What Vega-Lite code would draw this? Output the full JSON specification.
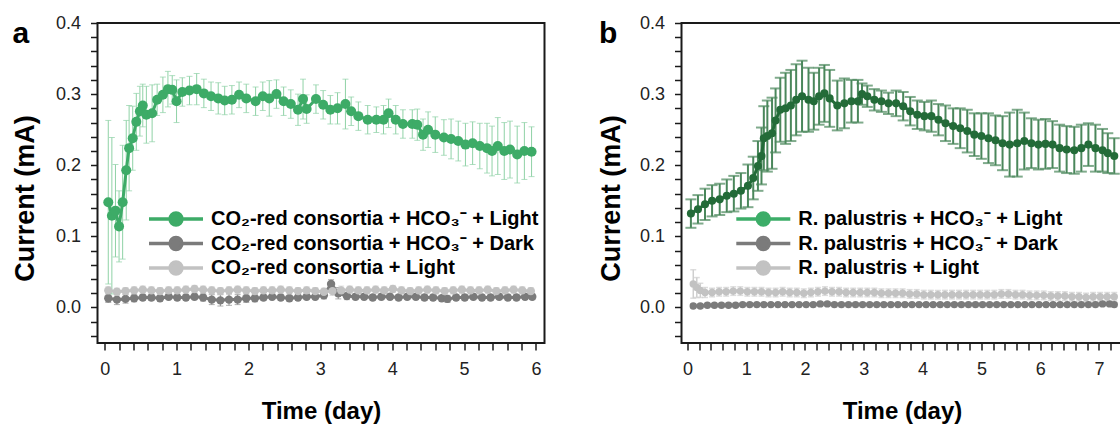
{
  "$schema": "https://vega.github.io/schema/vega-lite/v6.json",
  "padding": {"left": 10.5, "top": 13, "right": 0, "bottom": 0},
  "spacing": 51,
  "datasets": {
    "a": [
      {"s":"D","t":0.05,"y":0.013,"e":0.006},{"s":"D","t":0.17,"y":0.011,"e":0.007},{"s":"D","t":0.29,"y":0.012,"e":0.006},{"s":"D","t":0.41,"y":0.013,"e":0.005},{"s":"D","t":0.53,"y":0.014,"e":0.004},{"s":"D","t":0.65,"y":0.014,"e":0.004},{"s":"D","t":0.77,"y":0.013,"e":0.004},{"s":"D","t":0.89,"y":0.015,"e":0.004},{"s":"D","t":1.01,"y":0.014,"e":0.004},{"s":"D","t":1.13,"y":0.014,"e":0.004},{"s":"D","t":1.25,"y":0.015,"e":0.004},{"s":"D","t":1.37,"y":0.014,"e":0.005},{"s":"D","t":1.49,"y":0.011,"e":0.007},{"s":"D","t":1.61,"y":0.010,"e":0.008},{"s":"D","t":1.73,"y":0.011,"e":0.008},{"s":"D","t":1.85,"y":0.011,"e":0.007},{"s":"D","t":1.97,"y":0.013,"e":0.006},{"s":"D","t":2.09,"y":0.013,"e":0.005},{"s":"D","t":2.21,"y":0.014,"e":0.004},{"s":"D","t":2.33,"y":0.015,"e":0.004},{"s":"D","t":2.45,"y":0.014,"e":0.004},{"s":"D","t":2.57,"y":0.013,"e":0.004},{"s":"D","t":2.69,"y":0.014,"e":0.004},{"s":"D","t":2.81,"y":0.015,"e":0.004},{"s":"D","t":2.93,"y":0.015,"e":0.004},{"s":"D","t":3.05,"y":0.017,"e":0.005},{"s":"D","t":3.15,"y":0.033,"e":0.006},{"s":"D","t":3.25,"y":0.02,"e":0.008},{"s":"D","t":3.37,"y":0.016,"e":0.005},{"s":"D","t":3.49,"y":0.015,"e":0.004},{"s":"D","t":3.61,"y":0.015,"e":0.004},{"s":"D","t":3.73,"y":0.014,"e":0.004},{"s":"D","t":3.85,"y":0.015,"e":0.004},{"s":"D","t":3.97,"y":0.015,"e":0.004},{"s":"D","t":4.09,"y":0.014,"e":0.004},{"s":"D","t":4.21,"y":0.015,"e":0.004},{"s":"D","t":4.33,"y":0.015,"e":0.004},{"s":"D","t":4.45,"y":0.014,"e":0.004},{"s":"D","t":4.57,"y":0.014,"e":0.004},{"s":"D","t":4.69,"y":0.013,"e":0.004},{"s":"D","t":4.77,"y":0.012,"e":0.005},{"s":"D","t":4.89,"y":0.014,"e":0.004},{"s":"D","t":5.01,"y":0.014,"e":0.004},{"s":"D","t":5.13,"y":0.015,"e":0.004},{"s":"D","t":5.25,"y":0.014,"e":0.004},{"s":"D","t":5.37,"y":0.014,"e":0.004},{"s":"D","t":5.49,"y":0.015,"e":0.004},{"s":"D","t":5.61,"y":0.014,"e":0.004},{"s":"D","t":5.73,"y":0.014,"e":0.004},{"s":"D","t":5.85,"y":0.015,"e":0.004},{"s":"D","t":5.95,"y":0.015,"e":0.004},
      {"s":"N","t":0.05,"y":0.024,"e":0.005},{"s":"N","t":0.17,"y":0.022,"e":0.005},{"s":"N","t":0.29,"y":0.023,"e":0.005},{"s":"N","t":0.41,"y":0.024,"e":0.005},{"s":"N","t":0.53,"y":0.025,"e":0.005},{"s":"N","t":0.65,"y":0.024,"e":0.005},{"s":"N","t":0.77,"y":0.023,"e":0.005},{"s":"N","t":0.89,"y":0.024,"e":0.005},{"s":"N","t":1.01,"y":0.024,"e":0.005},{"s":"N","t":1.13,"y":0.025,"e":0.005},{"s":"N","t":1.25,"y":0.026,"e":0.005},{"s":"N","t":1.37,"y":0.025,"e":0.005},{"s":"N","t":1.49,"y":0.024,"e":0.005},{"s":"N","t":1.61,"y":0.023,"e":0.005},{"s":"N","t":1.73,"y":0.024,"e":0.005},{"s":"N","t":1.85,"y":0.025,"e":0.005},{"s":"N","t":1.97,"y":0.024,"e":0.005},{"s":"N","t":2.09,"y":0.023,"e":0.005},{"s":"N","t":2.21,"y":0.024,"e":0.005},{"s":"N","t":2.33,"y":0.024,"e":0.005},{"s":"N","t":2.45,"y":0.025,"e":0.005},{"s":"N","t":2.57,"y":0.024,"e":0.005},{"s":"N","t":2.69,"y":0.023,"e":0.005},{"s":"N","t":2.81,"y":0.024,"e":0.005},{"s":"N","t":2.93,"y":0.023,"e":0.005},{"s":"N","t":3.05,"y":0.022,"e":0.005},{"s":"N","t":3.17,"y":0.023,"e":0.006},{"s":"N","t":3.29,"y":0.024,"e":0.006},{"s":"N","t":3.41,"y":0.025,"e":0.005},{"s":"N","t":3.53,"y":0.024,"e":0.005},{"s":"N","t":3.65,"y":0.024,"e":0.005},{"s":"N","t":3.77,"y":0.025,"e":0.005},{"s":"N","t":3.89,"y":0.024,"e":0.005},{"s":"N","t":4.01,"y":0.026,"e":0.005},{"s":"N","t":4.13,"y":0.024,"e":0.005},{"s":"N","t":4.25,"y":0.023,"e":0.005},{"s":"N","t":4.37,"y":0.024,"e":0.005},{"s":"N","t":4.49,"y":0.025,"e":0.005},{"s":"N","t":4.61,"y":0.024,"e":0.005},{"s":"N","t":4.73,"y":0.023,"e":0.005},{"s":"N","t":4.85,"y":0.024,"e":0.005},{"s":"N","t":4.97,"y":0.025,"e":0.005},{"s":"N","t":5.09,"y":0.024,"e":0.005},{"s":"N","t":5.21,"y":0.024,"e":0.005},{"s":"N","t":5.33,"y":0.025,"e":0.005},{"s":"N","t":5.45,"y":0.023,"e":0.005},{"s":"N","t":5.57,"y":0.024,"e":0.005},{"s":"N","t":5.69,"y":0.025,"e":0.005},{"s":"N","t":5.81,"y":0.024,"e":0.005},{"s":"N","t":5.93,"y":0.023,"e":0.005},
      {"s":"L","t":0.05,"y":0.148,"e":0.115},{"s":"L","t":0.1,"y":0.129,"e":0.11},{"s":"L","t":0.15,"y":0.136,"e":0.065},{"s":"L","t":0.2,"y":0.114,"e":0.05},{"s":"L","t":0.25,"y":0.148,"e":0.08},{"s":"L","t":0.3,"y":0.193,"e":0.07},{"s":"L","t":0.34,"y":0.224,"e":0.06},{"s":"L","t":0.39,"y":0.238,"e":0.045},{"s":"L","t":0.44,"y":0.261,"e":0.04},{"s":"L","t":0.49,"y":0.276,"e":0.035},{"s":"L","t":0.53,"y":0.284,"e":0.03},{"s":"L","t":0.58,"y":0.271,"e":0.04},{"s":"L","t":0.66,"y":0.273,"e":0.04},{"s":"L","t":0.73,"y":0.292,"e":0.022},{"s":"L","t":0.81,"y":0.299,"e":0.025},{"s":"L","t":0.88,"y":0.307,"e":0.025},{"s":"L","t":0.94,"y":0.306,"e":0.02},{"s":"L","t":1.0,"y":0.29,"e":0.03},{"s":"L","t":1.08,"y":0.303,"e":0.02},{"s":"L","t":1.18,"y":0.305,"e":0.02},{"s":"L","t":1.28,"y":0.307,"e":0.022},{"s":"L","t":1.38,"y":0.301,"e":0.02},{"s":"L","t":1.48,"y":0.297,"e":0.02},{"s":"L","t":1.58,"y":0.294,"e":0.022},{"s":"L","t":1.67,"y":0.291,"e":0.02},{"s":"L","t":1.77,"y":0.292,"e":0.02},{"s":"L","t":1.87,"y":0.299,"e":0.018},{"s":"L","t":1.97,"y":0.294,"e":0.02},{"s":"L","t":2.1,"y":0.29,"e":0.02},{"s":"L","t":2.2,"y":0.297,"e":0.02},{"s":"L","t":2.29,"y":0.294,"e":0.025},{"s":"L","t":2.39,"y":0.3,"e":0.02},{"s":"L","t":2.49,"y":0.29,"e":0.02},{"s":"L","t":2.59,"y":0.286,"e":0.02},{"s":"L","t":2.69,"y":0.278,"e":0.022},{"s":"L","t":2.76,"y":0.293,"e":0.028},{"s":"L","t":2.81,"y":0.279,"e":0.02},{"s":"L","t":2.94,"y":0.293,"e":0.02},{"s":"L","t":3.04,"y":0.285,"e":0.02},{"s":"L","t":3.14,"y":0.278,"e":0.02},{"s":"L","t":3.24,"y":0.28,"e":0.022},{"s":"L","t":3.35,"y":0.286,"e":0.035},{"s":"L","t":3.43,"y":0.276,"e":0.02},{"s":"L","t":3.53,"y":0.269,"e":0.02},{"s":"L","t":3.66,"y":0.264,"e":0.02},{"s":"L","t":3.78,"y":0.264,"e":0.018},{"s":"L","t":3.88,"y":0.264,"e":0.02},{"s":"L","t":3.95,"y":0.273,"e":0.02},{"s":"L","t":4.05,"y":0.264,"e":0.02},{"s":"L","t":4.15,"y":0.258,"e":0.02},{"s":"L","t":4.28,"y":0.258,"e":0.02},{"s":"L","t":4.35,"y":0.257,"e":0.022},{"s":"L","t":4.43,"y":0.243,"e":0.022},{"s":"L","t":4.5,"y":0.25,"e":0.025},{"s":"L","t":4.6,"y":0.243,"e":0.025},{"s":"L","t":4.72,"y":0.239,"e":0.025},{"s":"L","t":4.82,"y":0.237,"e":0.028},{"s":"L","t":4.92,"y":0.234,"e":0.028},{"s":"L","t":5.02,"y":0.229,"e":0.03},{"s":"L","t":5.12,"y":0.231,"e":0.03},{"s":"L","t":5.22,"y":0.227,"e":0.032},{"s":"L","t":5.32,"y":0.224,"e":0.035},{"s":"L","t":5.39,"y":0.22,"e":0.035},{"s":"L","t":5.47,"y":0.227,"e":0.04},{"s":"L","t":5.56,"y":0.22,"e":0.04},{"s":"L","t":5.64,"y":0.222,"e":0.04},{"s":"L","t":5.74,"y":0.215,"e":0.04},{"s":"L","t":5.84,"y":0.22,"e":0.04},{"s":"L","t":5.94,"y":0.219,"e":0.035}
    ],
    "b": [
      {"s":"D","t":0.1,"y":0.002,"e":0.003},{"s":"D","t":0.22,"y":0.002,"e":0.003},{"s":"D","t":0.34,"y":0.003,"e":0.003},{"s":"D","t":0.46,"y":0.003,"e":0.003},{"s":"D","t":0.58,"y":0.003,"e":0.003},{"s":"D","t":0.7,"y":0.003,"e":0.003},{"s":"D","t":0.82,"y":0.003,"e":0.003},{"s":"D","t":0.94,"y":0.004,"e":0.003},{"s":"D","t":1.06,"y":0.004,"e":0.003},{"s":"D","t":1.18,"y":0.004,"e":0.003},{"s":"D","t":1.3,"y":0.004,"e":0.003},{"s":"D","t":1.42,"y":0.004,"e":0.003},{"s":"D","t":1.54,"y":0.004,"e":0.003},{"s":"D","t":1.66,"y":0.004,"e":0.003},{"s":"D","t":1.78,"y":0.004,"e":0.003},{"s":"D","t":1.9,"y":0.004,"e":0.003},{"s":"D","t":2.02,"y":0.004,"e":0.003},{"s":"D","t":2.14,"y":0.004,"e":0.003},{"s":"D","t":2.26,"y":0.005,"e":0.003},{"s":"D","t":2.38,"y":0.005,"e":0.003},{"s":"D","t":2.5,"y":0.004,"e":0.003},{"s":"D","t":2.62,"y":0.004,"e":0.003},{"s":"D","t":2.74,"y":0.004,"e":0.003},{"s":"D","t":2.86,"y":0.004,"e":0.003},{"s":"D","t":2.98,"y":0.004,"e":0.003},{"s":"D","t":3.1,"y":0.004,"e":0.003},{"s":"D","t":3.22,"y":0.004,"e":0.003},{"s":"D","t":3.34,"y":0.004,"e":0.003},{"s":"D","t":3.46,"y":0.004,"e":0.003},{"s":"D","t":3.58,"y":0.004,"e":0.003},{"s":"D","t":3.7,"y":0.004,"e":0.003},{"s":"D","t":3.82,"y":0.004,"e":0.003},{"s":"D","t":3.94,"y":0.004,"e":0.003},{"s":"D","t":4.06,"y":0.004,"e":0.003},{"s":"D","t":4.18,"y":0.004,"e":0.003},{"s":"D","t":4.3,"y":0.004,"e":0.003},{"s":"D","t":4.42,"y":0.004,"e":0.003},{"s":"D","t":4.54,"y":0.004,"e":0.003},{"s":"D","t":4.66,"y":0.004,"e":0.003},{"s":"D","t":4.78,"y":0.004,"e":0.003},{"s":"D","t":4.9,"y":0.004,"e":0.003},{"s":"D","t":5.02,"y":0.004,"e":0.003},{"s":"D","t":5.14,"y":0.004,"e":0.003},{"s":"D","t":5.26,"y":0.004,"e":0.003},{"s":"D","t":5.38,"y":0.004,"e":0.003},{"s":"D","t":5.5,"y":0.004,"e":0.003},{"s":"D","t":5.62,"y":0.004,"e":0.003},{"s":"D","t":5.74,"y":0.004,"e":0.003},{"s":"D","t":5.86,"y":0.004,"e":0.003},{"s":"D","t":5.98,"y":0.004,"e":0.003},{"s":"D","t":6.1,"y":0.004,"e":0.003},{"s":"D","t":6.22,"y":0.004,"e":0.003},{"s":"D","t":6.34,"y":0.004,"e":0.003},{"s":"D","t":6.46,"y":0.004,"e":0.003},{"s":"D","t":6.58,"y":0.004,"e":0.003},{"s":"D","t":6.7,"y":0.004,"e":0.003},{"s":"D","t":6.82,"y":0.004,"e":0.003},{"s":"D","t":6.94,"y":0.004,"e":0.003},{"s":"D","t":7.06,"y":0.005,"e":0.003},{"s":"D","t":7.18,"y":0.005,"e":0.003},{"s":"D","t":7.26,"y":0.004,"e":0.003},
      {"s":"N","t":0.1,"y":0.033,"e":0.02},{"s":"N","t":0.16,"y":0.028,"e":0.014},{"s":"N","t":0.22,"y":0.024,"e":0.01},{"s":"N","t":0.3,"y":0.021,"e":0.007},{"s":"N","t":0.42,"y":0.021,"e":0.006},{"s":"N","t":0.54,"y":0.022,"e":0.006},{"s":"N","t":0.66,"y":0.022,"e":0.006},{"s":"N","t":0.78,"y":0.023,"e":0.006},{"s":"N","t":0.9,"y":0.023,"e":0.006},{"s":"N","t":1.02,"y":0.022,"e":0.006},{"s":"N","t":1.14,"y":0.022,"e":0.006},{"s":"N","t":1.26,"y":0.022,"e":0.006},{"s":"N","t":1.38,"y":0.021,"e":0.006},{"s":"N","t":1.5,"y":0.021,"e":0.006},{"s":"N","t":1.62,"y":0.022,"e":0.006},{"s":"N","t":1.74,"y":0.021,"e":0.006},{"s":"N","t":1.86,"y":0.021,"e":0.006},{"s":"N","t":1.98,"y":0.02,"e":0.006},{"s":"N","t":2.1,"y":0.021,"e":0.006},{"s":"N","t":2.22,"y":0.022,"e":0.006},{"s":"N","t":2.34,"y":0.023,"e":0.006},{"s":"N","t":2.46,"y":0.022,"e":0.006},{"s":"N","t":2.58,"y":0.022,"e":0.006},{"s":"N","t":2.7,"y":0.021,"e":0.006},{"s":"N","t":2.82,"y":0.021,"e":0.006},{"s":"N","t":2.94,"y":0.021,"e":0.006},{"s":"N","t":3.06,"y":0.021,"e":0.006},{"s":"N","t":3.18,"y":0.021,"e":0.006},{"s":"N","t":3.3,"y":0.02,"e":0.006},{"s":"N","t":3.42,"y":0.02,"e":0.006},{"s":"N","t":3.54,"y":0.02,"e":0.006},{"s":"N","t":3.66,"y":0.02,"e":0.006},{"s":"N","t":3.78,"y":0.019,"e":0.006},{"s":"N","t":3.9,"y":0.019,"e":0.006},{"s":"N","t":4.02,"y":0.018,"e":0.006},{"s":"N","t":4.14,"y":0.018,"e":0.006},{"s":"N","t":4.26,"y":0.018,"e":0.006},{"s":"N","t":4.38,"y":0.018,"e":0.006},{"s":"N","t":4.5,"y":0.018,"e":0.006},{"s":"N","t":4.62,"y":0.018,"e":0.006},{"s":"N","t":4.74,"y":0.018,"e":0.006},{"s":"N","t":4.86,"y":0.018,"e":0.006},{"s":"N","t":4.98,"y":0.018,"e":0.006},{"s":"N","t":5.1,"y":0.018,"e":0.006},{"s":"N","t":5.22,"y":0.018,"e":0.006},{"s":"N","t":5.34,"y":0.019,"e":0.006},{"s":"N","t":5.46,"y":0.019,"e":0.006},{"s":"N","t":5.58,"y":0.018,"e":0.006},{"s":"N","t":5.7,"y":0.018,"e":0.006},{"s":"N","t":5.82,"y":0.017,"e":0.006},{"s":"N","t":5.94,"y":0.017,"e":0.006},{"s":"N","t":6.06,"y":0.017,"e":0.006},{"s":"N","t":6.18,"y":0.016,"e":0.006},{"s":"N","t":6.3,"y":0.016,"e":0.006},{"s":"N","t":6.42,"y":0.016,"e":0.006},{"s":"N","t":6.54,"y":0.015,"e":0.006},{"s":"N","t":6.66,"y":0.015,"e":0.006},{"s":"N","t":6.78,"y":0.014,"e":0.006},{"s":"N","t":6.9,"y":0.015,"e":0.006},{"s":"N","t":7.02,"y":0.015,"e":0.006},{"s":"N","t":7.14,"y":0.015,"e":0.006},{"s":"N","t":7.26,"y":0.015,"e":0.006},
      {"s":"L","t":0.06,"y":0.132,"e":0.02},{"s":"L","t":0.18,"y":0.138,"e":0.02},{"s":"L","t":0.3,"y":0.145,"e":0.022},{"s":"L","t":0.42,"y":0.15,"e":0.022},{"s":"L","t":0.55,"y":0.152,"e":0.022},{"s":"L","t":0.67,"y":0.157,"e":0.023},{"s":"L","t":0.79,"y":0.16,"e":0.025},{"s":"L","t":0.91,"y":0.164,"e":0.025},{"s":"L","t":1.03,"y":0.171,"e":0.03},{"s":"L","t":1.12,"y":0.182,"e":0.03},{"s":"L","t":1.2,"y":0.199,"e":0.035},{"s":"L","t":1.26,"y":0.213,"e":0.04},{"s":"L","t":1.3,"y":0.238,"e":0.045},{"s":"L","t":1.36,"y":0.241,"e":0.05},{"s":"L","t":1.44,"y":0.245,"e":0.05},{"s":"L","t":1.5,"y":0.263,"e":0.045},{"s":"L","t":1.58,"y":0.278,"e":0.045},{"s":"L","t":1.67,"y":0.28,"e":0.05},{"s":"L","t":1.76,"y":0.284,"e":0.05},{"s":"L","t":1.85,"y":0.292,"e":0.05},{"s":"L","t":1.95,"y":0.297,"e":0.05},{"s":"L","t":2.06,"y":0.292,"e":0.045},{"s":"L","t":2.15,"y":0.29,"e":0.04},{"s":"L","t":2.24,"y":0.297,"e":0.04},{"s":"L","t":2.33,"y":0.301,"e":0.04},{"s":"L","t":2.42,"y":0.294,"e":0.04},{"s":"L","t":2.55,"y":0.284,"e":0.035},{"s":"L","t":2.67,"y":0.287,"e":0.035},{"s":"L","t":2.79,"y":0.29,"e":0.03},{"s":"L","t":2.9,"y":0.29,"e":0.03},{"s":"L","t":2.97,"y":0.3,"e":0.015},{"s":"L","t":3.06,"y":0.297,"e":0.015},{"s":"L","t":3.18,"y":0.292,"e":0.015},{"s":"L","t":3.3,"y":0.29,"e":0.015},{"s":"L","t":3.42,"y":0.287,"e":0.015},{"s":"L","t":3.55,"y":0.287,"e":0.018},{"s":"L","t":3.67,"y":0.283,"e":0.02},{"s":"L","t":3.79,"y":0.276,"e":0.02},{"s":"L","t":3.91,"y":0.271,"e":0.02},{"s":"L","t":4.03,"y":0.269,"e":0.02},{"s":"L","t":4.15,"y":0.269,"e":0.022},{"s":"L","t":4.27,"y":0.264,"e":0.022},{"s":"L","t":4.39,"y":0.259,"e":0.025},{"s":"L","t":4.52,"y":0.255,"e":0.025},{"s":"L","t":4.64,"y":0.252,"e":0.028},{"s":"L","t":4.76,"y":0.248,"e":0.03},{"s":"L","t":4.88,"y":0.243,"e":0.03},{"s":"L","t":5.0,"y":0.241,"e":0.032},{"s":"L","t":5.12,"y":0.238,"e":0.035},{"s":"L","t":5.24,"y":0.235,"e":0.035},{"s":"L","t":5.36,"y":0.231,"e":0.038},{"s":"L","t":5.48,"y":0.229,"e":0.045},{"s":"L","t":5.61,"y":0.231,"e":0.047},{"s":"L","t":5.73,"y":0.234,"e":0.04},{"s":"L","t":5.85,"y":0.231,"e":0.035},{"s":"L","t":5.97,"y":0.229,"e":0.035},{"s":"L","t":6.09,"y":0.23,"e":0.035},{"s":"L","t":6.21,"y":0.229,"e":0.033},{"s":"L","t":6.33,"y":0.224,"e":0.033},{"s":"L","t":6.45,"y":0.222,"e":0.033},{"s":"L","t":6.58,"y":0.221,"e":0.033},{"s":"L","t":6.7,"y":0.224,"e":0.033},{"s":"L","t":6.82,"y":0.229,"e":0.03},{"s":"L","t":6.94,"y":0.224,"e":0.033},{"s":"L","t":7.06,"y":0.221,"e":0.03},{"s":"L","t":7.15,"y":0.217,"e":0.028},{"s":"L","t":7.26,"y":0.213,"e":0.025}
    ]
  },
  "resolve": {"scale": {"x": "independent", "y": "independent", "color": "independent"}, "legend": {"color": "independent"}},
  "hconcat": [
    {
      "data": {"name": "a"},
      "width": 447,
      "height": 320,
      "title": {"text": "a", "anchor": "start", "frame": "group", "dx": -85, "offset": -59, "baseline": "alphabetic", "fontSize": 30, "fontWeight": "bold", "font": "Liberation Sans", "color": "#000"},
      "encoding": {
        "x": {"field": "t", "type": "quantitative", "scale": {"domain": [-0.1, 6.12], "nice": false, "zero": false},
          "axis": {"title": "Time (day)", "values": [0,0.2,0.4,0.6,0.8,1,1.2,1.4,1.6,1.8,2,2.2,2.4,2.6,2.8,3,3.2,3.4,3.6,3.8,4,4.2,4.4,4.6,4.8,5,5.2,5.4,5.6,5.8,6],
            "labelExpr": "abs(datum.value - round(datum.value)) < 0.001 ? format(datum.value, 'd') : ''"}},
        "y": {"field": "y", "type": "quantitative", "scale": {"domain": [-0.05, 0.4], "nice": false, "zero": false},
          "axis": {"title": "Current  (mA)", "titleX": -58, "values": [-0.04,-0.02,0,0.02,0.04,0.06,0.08,0.1,0.12,0.14,0.16,0.18,0.2,0.22,0.24,0.26,0.28,0.3,0.32,0.34,0.36,0.38,0.4],
            "labelExpr": "abs(datum.value * 10 - round(datum.value * 10)) < 0.001 ? format(datum.value, '.1f') : ''"}}
      },
      "layer": [
        {"transform": [{"filter": "datum.s === 'D'"}], "mark": {"type": "errorbar", "ticks": true, "size": 6, "thickness": 1, "color": "#8c8c8c"}, "encoding": {"yError": {"field": "e"}}},
        {"transform": [{"filter": "datum.s === 'N'"}], "mark": {"type": "errorbar", "ticks": true, "size": 6, "thickness": 1, "color": "#cccccc"}, "encoding": {"yError": {"field": "e"}}},
        {"transform": [{"filter": "datum.s === 'L'"}], "mark": {"type": "errorbar", "ticks": true, "size": 6, "thickness": 1, "color": "#8fd2a6"}, "encoding": {"yError": {"field": "e"}}},
        {"mark": {"type": "line", "strokeWidth": 3}, "encoding": {"color": {"field": "s", "type": "nominal",
          "scale": {"domain": ["L", "D", "N"], "range": ["#3dab67", "#7b7b7b", "#c2c2c2"]},
          "legend": {"title": null, "orient": "none", "legendX": 49.5, "legendY": 186,
            "symbolType": "M-1,0L-0.22,0M0.22,0L1,0M0.22,0A0.22,0.22,0,1,1,-0.22,0A0.22,0.22,0,1,1,0.22,0Z",
            "labelExpr": "datum.value === 'L' ? 'CO₂-red consortia + HCO₃⁻ + Light' : datum.value === 'D' ? 'CO₂-red consortia + HCO₃⁻ + Dark' : 'CO₂-red consortia + Light'"}}}},
        {"mark": {"type": "circle", "opacity": 1}, "encoding": {
          "size": {"condition": {"test": "datum.s === 'L'", "value": 100}, "value": 70},
          "color": {"field": "s", "type": "nominal",
          "scale": {"domain": ["L", "D", "N"], "range": ["#3dab67", "#7b7b7b", "#c2c2c2"]},
          "legend": {"title": null, "orient": "none", "legendX": 49.5, "legendY": 186,
            "symbolType": "M-1,0L-0.22,0M0.22,0L1,0M0.22,0A0.22,0.22,0,1,1,-0.22,0A0.22,0.22,0,1,1,0.22,0Z",
            "labelExpr": "datum.value === 'L' ? 'CO₂-red consortia + HCO₃⁻ + Light' : datum.value === 'D' ? 'CO₂-red consortia + HCO₃⁻ + Dark' : 'CO₂-red consortia + Light'"}}}}
      ]
    },
    {
      "data": {"name": "b"},
      "width": 441,
      "height": 320,
      "title": {"text": "b", "anchor": "start", "frame": "group", "dx": -82.5, "offset": -59, "baseline": "alphabetic", "fontSize": 30, "fontWeight": "bold", "font": "Liberation Sans", "color": "#000"},
      "encoding": {
        "x": {"field": "t", "type": "quantitative", "scale": {"domain": [-0.1, 7.4], "nice": false, "zero": false},
          "axis": {"title": "Time (day)", "values": [0,0.2,0.4,0.6,0.8,1,1.2,1.4,1.6,1.8,2,2.2,2.4,2.6,2.8,3,3.2,3.4,3.6,3.8,4,4.2,4.4,4.6,4.8,5,5.2,5.4,5.6,5.8,6,6.2,6.4,6.6,6.8,7,7.2],
            "labelExpr": "abs(datum.value - round(datum.value)) < 0.001 ? format(datum.value, 'd') : ''"}},
        "y": {"field": "y", "type": "quantitative", "scale": {"domain": [-0.05, 0.4], "nice": false, "zero": false},
          "axis": {"title": "Current  (mA)", "titleX": -56, "values": [-0.04,-0.02,0,0.02,0.04,0.06,0.08,0.1,0.12,0.14,0.16,0.18,0.2,0.22,0.24,0.26,0.28,0.3,0.32,0.34,0.36,0.38,0.4],
            "labelExpr": "abs(datum.value * 10 - round(datum.value * 10)) < 0.001 ? format(datum.value, '.1f') : ''"}}
      },
      "layer": [
        {"transform": [{"filter": "datum.s === 'D'"}], "mark": {"type": "errorbar", "ticks": true, "size": 6, "thickness": 1, "color": "#8c8c8c"}, "encoding": {"yError": {"field": "e"}}},
        {"transform": [{"filter": "datum.s === 'N'"}], "mark": {"type": "errorbar", "ticks": true, "size": 6, "thickness": 1.5, "color": "#cfcfcf"}, "encoding": {"yError": {"field": "e"}}},
        {"transform": [{"filter": "datum.s === 'L'"}], "mark": {"type": "errorbar", "ticks": true, "size": 11, "thickness": 2, "color": "#4a875b"}, "encoding": {"yError": {"field": "e"}}},
        {"transform": [{"filter": "datum.s !== 'L'"}], "mark": {"type": "line", "strokeWidth": 3}, "encoding": {"color": {"field": "s", "type": "nominal",
          "scale": {"domain": ["L", "D", "N"], "range": ["#3cad68", "#7b7b7b", "#c2c2c2"]},
          "legend": {"title": null, "orient": "none", "legendX": 52.8, "legendY": 186,
            "symbolType": "M-1,0L-0.22,0M0.22,0L1,0M0.22,0A0.22,0.22,0,1,1,-0.22,0A0.22,0.22,0,1,1,0.22,0Z",
            "labelExpr": "datum.value === 'L' ? 'R. palustris + HCO₃⁻ + Light' : datum.value === 'D' ? 'R. palustris + HCO₃⁻ + Dark' : 'R. palustris + Light'"}}}},
        {"transform": [{"filter": "datum.s !== 'L'"}], "mark": {"type": "circle", "opacity": 1, "size": 55}, "encoding": {
          "color": {"field": "s", "type": "nominal",
          "scale": {"domain": ["L", "D", "N"], "range": ["#3cad68", "#7b7b7b", "#c2c2c2"]},
          "legend": {"title": null, "orient": "none", "legendX": 52.8, "legendY": 186,
            "symbolType": "M-1,0L-0.22,0M0.22,0L1,0M0.22,0A0.22,0.22,0,1,1,-0.22,0A0.22,0.22,0,1,1,0.22,0Z",
            "labelExpr": "datum.value === 'L' ? 'R. palustris + HCO₃⁻ + Light' : datum.value === 'D' ? 'R. palustris + HCO₃⁻ + Dark' : 'R. palustris + Light'"}}}},
        {"transform": [{"filter": "datum.s === 'L'"}], "mark": {"type": "line", "strokeWidth": 3, "color": "#236b38"}, "encoding": {}},
        {"transform": [{"filter": "datum.s === 'L'"}], "mark": {"type": "circle", "opacity": 1, "size": 65, "color": "#236b38"}, "encoding": {}}
      ]
    }
  ],
  "config": {
    "font": "Liberation Sans",
    "view": {"stroke": "#1a1a1a", "strokeWidth": 2},
    "axis": {"domain": false, "grid": false, "tickColor": "#1a1a1a", "tickWidth": 1.5, "tickSize": 7,
      "labelFont": "Liberation Sans", "labelFontSize": 18, "labelColor": "#222222", "labelPadding": 10,
      "titleFont": "Liberation Sans", "titleFontWeight": "bold", "titleColor": "#000000"},
    "axisX": {"titleY": 56, "titleFontSize": 24, "labelOverlap": false, "labelFlush": false},
    "axisY": {"titleY": 175, "titleFontSize": 27, "labelOverlap": false},
    "legend": {"symbolType": "M-1,0L-0.22,0M0.22,0L1,0M0.22,0A0.22,0.22,0,1,1,-0.22,0A0.22,0.22,0,1,1,0.22,0Z",
      "symbolSize": 2916, "symbolStrokeWidth": 3.5, "clipHeight": 20, "rowPadding": 4.5, "padding": 0,
      "labelFont": "Liberation Sans", "labelFontSize": 20, "labelFontWeight": "bold", "labelColor": "#000000",
      "labelLimit": 600, "labelOffset": 6, "symbolOpacity": 1}
  }
}
